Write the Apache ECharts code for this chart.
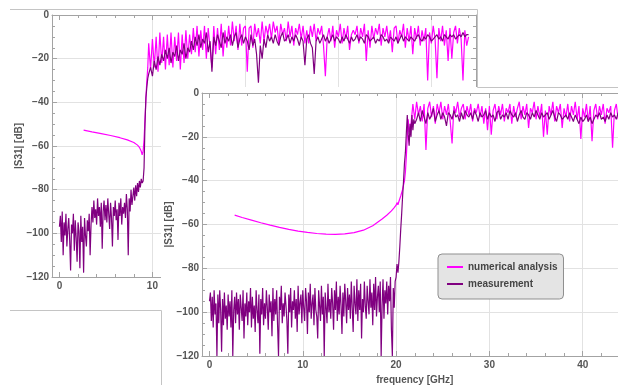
<!DOCTYPE html>
<html>
<head>
<meta charset="utf-8">
<script src="https://cdn.jsdelivr.net/npm/echarts@6.0.0/dist/echarts.min.js"></script>
<style>
  html, body { margin: 0; padding: 0; background: #fff; }
  #chart { width: 618px; height: 385px; }
</style>
</head>
<body>
<div id="chart"></div>
<script>
// frequency axis range [GHz] and level axis range [dB]
var X_MIN = -0.8, X_MAX = 44.8;
var Y_MIN = -120, Y_MAX = 0;

// ---------- background plot (cutoff near 9 GHz) ----------
// numerical analysis, smooth part
var bgNumX = [2.6, 3.5, 4.5, 5.5, 6.5, 7.3, 8.0, 8.4, 8.6, 8.8, 8.9, 9.0, 9.1, 9.2, 9.3, 9.4, 9.5];
var bgNumY = [-52.7, -53.5, -54.3, -55.2, -56.2, -57.2, -58.4, -59.6, -60.6, -62.4, -64.0, -62.5, -57.0, -48.0, -38.0, -30.0, -24.0];
// numerical analysis, 9.6 .. 44.0 GHz every 0.2 GHz
var bgNumNoise = [
  -13,-25,-11,-24,-10,-26,-8,-22,-10,-25,-9,-23,-8,-24,-10,-21,-8,-25,-9,-22,-7,-20,-9,
  -18,-6,-17,-5,-19,-7,-16,-5,-20,-6,-15,-24,-5,-18,-6,-16,-4,-19,-7,-15,-5,
  -14,-3,-12,-5,-16,-4,-14,-6,-5,-26,-6,-5,-15,-4,-10,-6,-13,-3,-12,-5,-9,-4,
  -11,-3,-8,-5,-13,-4,-9,-6,-12,-3,-10,-5,-14,-6,-9,-4,-11,-5,-13,-7,-13,-5,-10,-4,-12,-6,-9,-5,-14,-28,-10,
  -6,-12,-5,-15,-7,-10,-4,-13,-6,-11,-5,-16,-9,-7,-9,-5,-13,-6,-10,-4,-21,-7,-15,-5,-11,-6,-9,-4,-14,-6,-10,-5,-12,-7,-17,-6,
  -5,-13,-7,-10,-4,-15,-6,-12,-5,-18,-6,-11,-5,-14,-7,-12,-6,-30,-8,-13,-5,-11,-29,-6,-12,-5,-14,-7,-21,-6,-20,-8,-5,-13,-6,-11,-30,-7,-14,-10
];
// measurement, 0.0 .. 9.0 GHz every 0.1 GHz
var bgMeasLow = [
  -97,-92,-104,-90,-110,-95,-101,-91,-106,-98,
  -93,-103,-117,-96,-100,-91,-108,-94,-102,-113,
  -95,-99,-116,-92,-104,-97,-118,-93,-101,-106,
  -94,-99,-91,-110,-96,-88,-95,-85,-93,-89,
  -96,-84,-92,-88,-97,-86,-107,-90,-85,-94,
  -87,-95,-84,-91,-98,-86,-93,-106,-88,-92,
  -85,-94,-89,-103,-86,-92,-84,-96,-88,-91,
  -86,-93,-82,-89,-110,-84,-90,-80,-87,-83,
  -79,-85,-78,-83,-77,-81,-76,-79,-75,-77,
  -76
];
// measurement, 9.1 .. 9.5 GHz every 0.1 GHz
var bgMeasEdge = [-70, -50, -38, -33, -29];
// measurement, 9.6 .. 44.0 GHz every 0.2 GHz
var bgMeasHigh = [
  -27,-24,-28,-21,-25,-19,-23,-18,
  -21,-16,-20,-15,-22,-17,-19,-14,-21,-16,-18,-13,-20,-15,-17,
  -12,-16,-10,-14,-9,-15,-11,-13,-8,-17,-12,-26,-10,-14,-9,-12,-15,-8,-13,-10,
  -12,-9,-14,-10,-8,-15,-11,-9,-13,-10,-12,-16,-9,-14,-11,
  -18,-31,-14,-20,-11,-15,-9,-12,
  -10,-13,-9,-12,-14,-10,-8,-12,-11,-9,-13,-10,-12,-9,-11,-14,-10,-12,-23,-11,-9,-13,
  -15,-27,-12,-10,-13,
  -11,-9,-12,-10,-13,-11,-9,-12,-10,-11,
  -13,-10,-12,-9,-11,-13,-10,-12,-11,-9,
  -12,-10,-11,-13,-9,-10,-12,-11,-10,-13,
  -11,-12,-9,-10,-12,-11,-13,-10,-11,-12,
  -10,-13,-11,-9,-12,-10,-11,-12,-10,-11,
  -12,-10,-9,-11,-12,-10,-11,-9,-10,-12,
  -11,-10,-9,-11,-10,-12,-9,-10,-11,-9,
  -10,-9,-11,-10,-9,-10,-8,-10,-9,-9
];

// ---------- foreground plot (cutoff near 20.5 GHz) ----------
var fgNumX = [2.7, 3.5, 4.5, 5.5, 6.5, 7.5, 8.5, 9.5, 10.5, 11.5, 12.5, 13.5, 14.5, 15.5, 16.5, 17.5, 18.5, 19.0, 19.5, 19.8, 20.0, 20.1, 20.2, 20.3, 20.5, 20.7, 20.9, 21.0, 21.1, 21.2, 21.3, 21.4];
var fgNumY = [-55.7, -56.8, -58.0, -59.2, -60.3, -61.3, -62.2, -63.0, -63.6, -64.1, -64.4, -64.5, -64.3, -63.7, -62.6, -60.6, -57.5, -55.8, -53.8, -52.3, -51.2, -50.0, -51.0, -49.5, -47.0, -44.0, -40.0, -36, -29, -20, -12, -18];
// numerical analysis, 21.6 .. 44.0 GHz every 0.2 GHz
var fgNumNoise = [
  -14,-5,-12,-4,-10,-6,-13,-5,-26,-7,
  -4,-11,-6,-14,-5,-9,-4,-12,-6,-10,
  -5,-13,-23,-6,-9,-4,-11,-7,-5,-12,
  -6,-10,-5,-13,-7,-9,-5,-11,-6,-14,
  -7,-17,-6,-19,-8,-5,-12,-6,-10,-5,
  -13,-7,-9,-5,-14,-6,-11,-7,-4,-12,
  -6,-10,-5,-16,-7,-9,-4,-12,-6,-11,
  -5,-20,-8,-19,-6,-10,-4,-13,-6,-9,
  -5,-16,-7,-11,-5,-13,-6,-10,-4,-12,
  -6,-21,-7,-11,-5,-13,-6,-22,-8,-5,
  -12,-6,-10,-5,-14,-7,-9,-6,-25,-8,
  -5,-12,-7
];
// measurement, 0.0 .. 19.9 GHz every 0.1 GHz
var fgMeasLow = [
  -95,-91,-104,-93,-107,-90,-101,-96,-120,-92,
  -105,-90,-99,-118,-94,-106,-91,-103,-97,-108,
  -92,-102,-95,-107,-90,-120,-99,-93,-105,-91,
  -101,-94,-108,-92,-98,-104,-90,-112,-96,-102,
  -91,-106,-95,-100,-89,-107,-93,-103,-97,-109,
  -90,-99,-105,-92,-119,-94,-101,-89,-106,-96,
  -103,-90,-98,-108,-92,-100,-95,-111,-89,-104,
  -94,-101,-90,-106,-120,-93,-99,-88,-105,-96,
  -102,-91,-97,-104,-119,-92,-100,-89,-107,-95,
  -99,-90,-103,-94,-109,-88,-101,-96,-92,-105,
  -90,-98,-104,-89,-95,-110,-91,-100,-87,-103,
  -96,-92,-106,-89,-99,-102,-112,-90,-97,-104,
  -88,-101,-93,-120,-91,-98,-105,-87,-100,-94,
  -103,-89,-96,-108,-90,-99,-86,-104,-93,-101,
  -88,-97,-110,-91,-102,-87,-95,-105,-89,-99,
  -92,-103,-86,-98,-109,-88,-96,-101,-85,-104,
  -90,-99,-87,-112,-94,-100,-86,-97,-103,-88,
  -95,-101,-85,-98,-91,-106,-87,-99,-84,-102,
  -93,-88,-100,-86,-120,-97,-85,-103,-90,-96,
  -86,-101,-88,-95,-84,-108,-120,-89,-98,-86
];
// measurement, 20.0 .. 22.0 GHz every 0.1 GHz
var fgMeasEdge = [-84,-78,-82,-77,-70,-62,-55,-47,-40,-32,-27,-18,-10,-19,-24,-14,-20,-10,-17,-12,-14];
// measurement, 22.2 .. 44.0 GHz every 0.2 GHz
var fgMeasHigh = [
  -12,-9,-13,-8,-11,-14,-9,-12,-10,-7,
  -13,-10,-8,-12,-9,-11,-15,-9,-10,-12,
  -8,-11,-10,-13,-9,-12,-8,-10,-11,-9,
  -12,-8,-10,-13,-9,-11,-10,-8,-12,-9,
  -11,-10,-13,-9,-8,-12,-10,-11,-9,-12,
  -8,-10,-11,-9,-13,-10,-8,-11,-12,-9,
  -10,-12,-9,-11,-8,-10,-12,-9,-11,-10,
  -9,-12,-10,-8,-11,-13,-9,-10,-12,-11,
  -10,-12,-9,-11,-13,-10,-12,-14,-11,-13,
  -12,-10,-13,-11,-14,-12,-10,-11,-9,-12,
  -11,-13,-10,-12,-9,-11,-10,-12,-9,-10
];

var seriesNames = ['numerical analysis', 'measurement'];
var seriesColors = ['#ff00ff', '#800080'];

// pair values with their frequency sampling
function pairs(xs, ys) {
  return ys.map(function (y, i) { return [xs[i], y]; });
}
function sampled(x0, dx, ys) {
  return ys.map(function (y, i) { return [Math.round((x0 + i * dx) * 100) / 100, y]; });
}

var bgNum = pairs(bgNumX, bgNumY).concat(sampled(9.6, 0.2, bgNumNoise));
var bgMeas = sampled(0, 0.1, bgMeasLow).concat(sampled(9.1, 0.1, bgMeasEdge), sampled(9.6, 0.2, bgMeasHigh));
var fgNum = pairs(fgNumX, fgNumY).concat(sampled(21.6, 0.2, fgNumNoise));
var fgMeas = sampled(0, 0.1, fgMeasLow).concat(sampled(20.0, 0.1, fgMeasEdge), sampled(22.2, 0.2, fgMeasHigh));

var FRAME = '#a3a3a3';
var GRIDC = '#e2e2e2';
var LABEL = '#555555';
var FONT = '"Liberation Sans", Arial, sans-serif';
var NONE = 'rgba(0,0,0,0)';

function minus(v) { return String(v).replace('-', '\u2212'); }

var textStyle = {color: LABEL, fontFamily: FONT, fontWeight: 'bold', fontSize: 10};

function frameAxis(gi, z, extra) {
  var ax = {
    type: 'value', gridIndex: gi, z: z,
    axisLine: {onZero: false, lineStyle: {color: FRAME, width: 1}},
    axisTick: {inside: true, length: 5, lineStyle: {color: FRAME}},
    minorTick: {show: true, length: 3, lineStyle: {color: FRAME}},
    axisLabel: {show: false},
    splitLine: {show: false}
  };
  for (var k in extra) ax[k] = extra[k];
  return ax;
}

function xAxesFor(gi, z) {
  var common = {min: X_MIN, max: X_MAX, splitNumber: 5};
  var bottom = frameAxis(gi, z, common);
  bottom.position = 'bottom';
  bottom.minorTick.splitNumber = 5;
  bottom.name = 'frequency [GHz]';
  bottom.nameLocation = 'middle';
  bottom.nameGap = 19;
  bottom.nameMoveOverlap = false;
  bottom.nameTextStyle = textStyle;
  bottom.axisLabel = {show: true, margin: 4, color: LABEL, fontFamily: FONT, fontWeight: 'bold', fontSize: 10,
    showMinLabel: false, showMaxLabel: false, formatter: minus};
  // no grid line at 0 GHz nor at the frame edges
  bottom.splitLine = {show: true, lineStyle: {color: [NONE, NONE, GRIDC, GRIDC, GRIDC, GRIDC, NONE], width: 1}};
  var top = frameAxis(gi, z, common);
  top.position = 'top';
  top.minorTick.splitNumber = 5;
  return [bottom, top];
}

function yAxesFor(gi, z) {
  var common = {min: Y_MIN, max: Y_MAX, interval: 20};
  var left = frameAxis(gi, z, common);
  left.position = 'left';
  left.minorTick.splitNumber = 4;
  left.name = '|S31| [dB]';
  left.nameLocation = 'middle';
  left.nameGap = 28;
  left.nameRotate = 90;
  left.nameMoveOverlap = false;
  left.nameTextStyle = textStyle;
  left.axisLabel = {show: true, margin: 3, color: LABEL, fontFamily: FONT, fontWeight: 'bold', fontSize: 10, formatter: minus};
  left.splitLine = {show: true, lineStyle: {color: GRIDC, width: 1}};
  var right = frameAxis(gi, z, common);
  right.position = 'right';
  right.minorTick.splitNumber = 4;
  return [left, right];
}

function lineSeries(name, color, data, axisIndex, z) {
  return {
    name: name, type: 'line', data: data, z: z,
    xAxisIndex: axisIndex, yAxisIndex: axisIndex,
    symbol: 'none', showSymbol: false, clip: true,
    lineStyle: {color: color, width: 1.2},
    itemStyle: {color: color}
  };
}

var myChart = echarts.init(document.getElementById('chart'), null, {renderer: 'canvas'});

var option = {
  animation: false,
  backgroundColor: '#ffffff',
  grid: [
    {left: 52, top: 15, width: 424, height: 262, outerBoundsMode: 'none', containLabel: false},
    {left: 202, top: 93, width: 425.5, height: 263, outerBoundsMode: 'none', containLabel: false}
  ],
  xAxis: xAxesFor(0, 0).concat(xAxesFor(1, 20)),
  yAxis: yAxesFor(0, 0).concat(yAxesFor(1, 20)),
  legend: {
    data: seriesNames,
    orient: 'vertical',
    left: 438, top: 254,
    z: 30,
    backgroundColor: '#e4e4e4',
    borderColor: '#8f8f8f',
    borderWidth: 1,
    borderRadius: 4,
    padding: [7, 6, 9, 8],
    itemWidth: 16, itemHeight: 12, itemGap: 5,
    lineStyle: {width: 2},
    itemStyle: {color: NONE, borderWidth: 0, opacity: 0},
    textStyle: {color: '#444', fontFamily: FONT, fontWeight: 'bold', fontSize: 10, lineHeight: 12},
    selectedMode: false
  },
  graphic: {
    elements: [
      {type: 'rect', z: 10, silent: true,
        shape: {x: 161, y: 87, width: 457, height: 298},
        style: {fill: '#ffffff'}},
      {type: 'polyline', z: 40, silent: true,
        shape: {points: [[10, 9.5], [477.5, 9.5], [477.5, 87.5], [618, 87.5]]},
        style: {stroke: '#c4c4c4', fill: null, lineWidth: 1}},
      {type: 'polyline', z: 40, silent: true,
        shape: {points: [[10, 310.5], [161.5, 310.5], [161.5, 385]]},
        style: {stroke: '#c4c4c4', fill: null, lineWidth: 1}}
    ]
  },
  series: [
    lineSeries(seriesNames[0], seriesColors[0], bgNum, 0, 2),
    lineSeries(seriesNames[1], seriesColors[1], bgMeas, 0, 3),
    lineSeries(seriesNames[0], seriesColors[0], fgNum, 2, 21),
    lineSeries(seriesNames[1], seriesColors[1], fgMeas, 2, 22)
  ]
};

myChart.setOption(option);
</script>
</body>
</html>
